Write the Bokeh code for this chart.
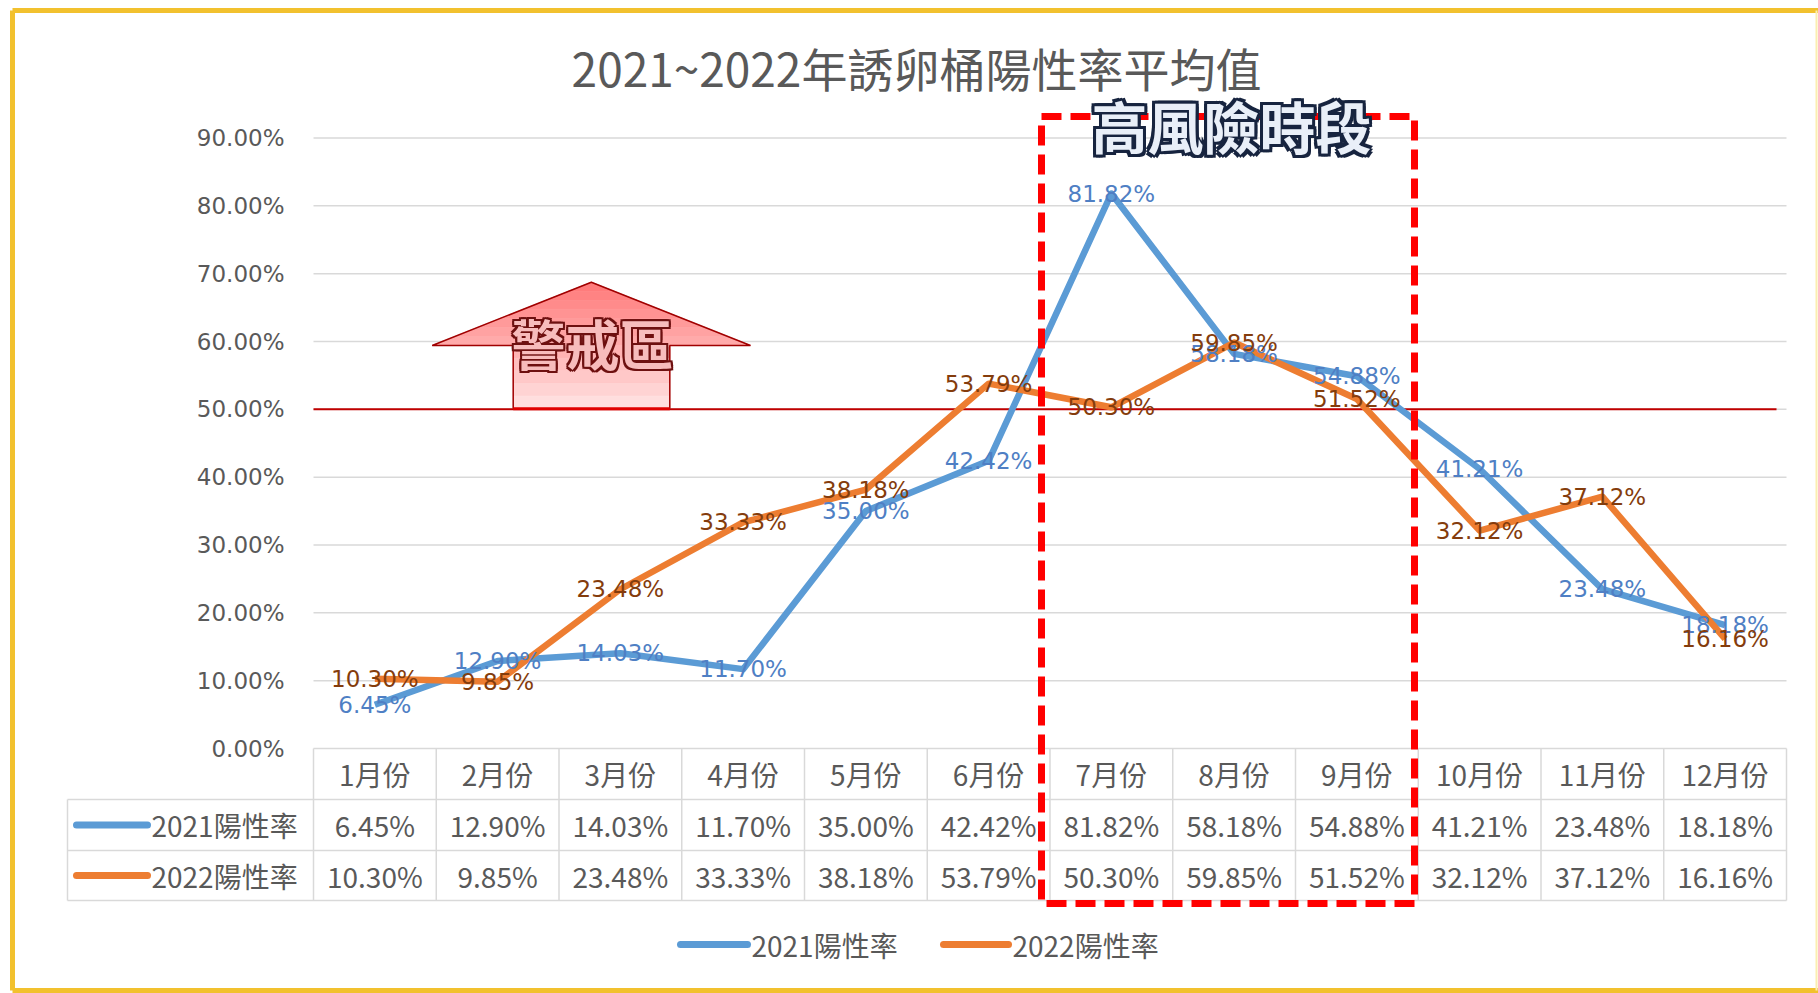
from bokeh.plotting import figure
from bokeh.models import Range1d
from bokeh.core.properties import value
from bokeh.embed import file_html
from bokeh.resources import INLINE

# ---------------- data ----------------
months = ["1月份", "2月份", "3月份", "4月份", "5月份", "6月份",
          "7月份", "8月份", "9月份", "10月份", "11月份", "12月份"]
series_names = ["2021陽性率", "2022陽性率"]
rate_2021 = [6.45, 12.90, 14.03, 11.70, 35.00, 42.42, 81.82, 58.18, 54.88, 41.21, 23.48, 18.18]
rate_2022 = [10.30, 9.85, 23.48, 33.33, 38.18, 53.79, 50.30, 59.85, 51.52, 32.12, 37.12, 16.16]
y_ticks = [0, 10, 20, 30, 40, 50, 60, 70, 80, 90]
threshold = 50
chart_title = "2021~2022年誘卵桶陽性率平均值"
warning_text = "警戒區"
risk_text = "高風險時段"

# ---------------- layout helpers ----------------
W, H = 1818, 993
PX_X0 = 313.0      # canvas px where the category axis starts
CAT_W = 122.75     # px per category
PX_Y0 = 748.0      # canvas px of 0 %
UNIT_H = 6.783     # px per percentage point


def X(px):
    return (px - PX_X0) / CAT_W


def Y(py):
    return (PX_Y0 - py) / UNIT_H


CJK = value("Noto Sans CJK TC")
LAB = value("DejaVu Sans")
GRAY = "#595959"
BLUE = "#5b9bd5"
ORANGE = "#ed7d31"
BLUE_LAB = "#4f7fc4"
ORANGE_LAB = "#843c0c"

p = figure(width=W, height=H, output_backend="svg", toolbar_location=None,
           x_range=Range1d(-PX_X0 / CAT_W, (W - PX_X0) / CAT_W),
           y_range=Range1d(-(H - PX_Y0) / UNIT_H, PX_Y0 / UNIT_H),
           x_axis_location=None, y_axis_location=None, min_border=0,
           outline_line_color=None, background_fill_color="white",
           border_fill_color="white")
p.xgrid.visible = False
p.ygrid.visible = False

n = len(months)
xs = [i + 0.5 for i in range(n)]

# ---------------- yellow chart border ----------------
p.segment(x0=[X(12), X(12), X(12)], y0=[Y(10), Y(10), Y(990)],
          x1=[X(1818), X(12), X(1818)], y1=[Y(10), Y(990), Y(990)],
          line_color="#f2c12e", line_width=5)
p.segment(x0=[X(1816)], y0=[Y(10)], x1=[X(1816)], y1=[Y(990)],
          line_color="#fbeeb0", line_width=2)

# ---------------- grid + y labels ----------------
grid_t = [t for t in y_ticks if t > 0]
p.segment(x0=[0] * len(grid_t), y0=grid_t, x1=[n] * len(grid_t), y1=grid_t,
          line_color="#d9d9d9", line_width=1.5)
p.text(x=[X(284)] * len(y_ticks), y=y_ticks, text=[f"{t:.2f}%" for t in y_ticks],
       text_align="right", text_baseline="middle", text_font=LAB,
       text_font_size="23px", text_color=GRAY)

# threshold line
p.segment(x0=[0], y0=[threshold], x1=[X(1776)], y1=[threshold],
          line_color="#c00000", line_width=2)

# ---------------- warning arrow ----------------
apex_y, base_y, bot_y = 281.7, 345.0, 408.3
tri_l, tri_r, body_l, body_r = 431.7, 750.0, 512.7, 669.3
tri_c = (tri_l + tri_r) / 2
body_c = (body_l + body_r) / 2


def half_w(yy):
    if yy <= base_y:
        return (yy - apex_y) / (base_y - apex_y) * (tri_r - tri_l) / 2
    return (body_r - body_l) / 2


bands = [apex_y + (base_y - apex_y) * k / 7 for k in range(8)] + \
        [base_y + (bot_y - base_y) * k / 5 for k in range(1, 6)]
b_xs, b_ys, b_cols = [], [], []
for ya, yb in zip(bands[:-1], bands[1:]):
    if yb <= base_y + 1e-6:
        c = tri_c
        wa, wb = half_w(ya), half_w(yb)
    else:
        c = body_c
        wa = wb = half_w(yb)
    b_xs.append([X(c - wa), X(c + wa), X(c + wb), X(c - wb)])
    b_ys.append([Y(ya), Y(ya), Y(yb), Y(yb)])
    f = ((ya + yb) / 2 - apex_y) / (bot_y - apex_y)
    g = int(120 + 108 * f)
    b_cols.append("#ff%02x%02x" % (g, g))
p.patches(xs=b_xs, ys=b_ys, fill_color=b_cols, line_color=b_cols, line_width=0.8)
ax = [tri_l, tri_c, tri_r, body_r, body_r, body_l, body_l]
ay = [base_y, apex_y, base_y, base_y, bot_y, bot_y, base_y]
p.patch(x=[X(v) for v in ax], y=[Y(v) for v in ay], fill_alpha=0,
        line_color="#a00000", line_width=1.5)
p.segment(x0=[X(body_l)], y0=[Y(bot_y)], x1=[X(body_r)], y1=[Y(bot_y)],
          line_color="#e00000", line_width=3)

offs = [(-2, -2), (-2, 0), (-2, 2), (0, -2), (0, 2), (2, -2), (2, 0), (2, 2)]
p.text(x=[X(592)] * 8, y=[Y(342)] * 8, text=[warning_text] * 8,
       x_offset=[o[0] for o in offs], y_offset=[o[1] for o in offs],
       text_align="center", text_baseline="middle", text_font=CJK,
       text_font_size="54px", text_font_style="bold", text_color="#6e1010")
p.text(x=[X(592)], y=[Y(342)], text=[warning_text], text_align="center",
       text_baseline="middle", text_font=CJK, text_font_size="54px",
       text_font_style="bold", text_color="#f7bcbc")

# ---------------- series lines + labels ----------------
p.line(xs, rate_2021, line_color=BLUE, line_width=6.5, line_join="round")
p.line(xs, rate_2022, line_color=ORANGE, line_width=6.5, line_join="round")
p.text(x=xs, y=rate_2021, text=[f"{v:.2f}%" for v in rate_2021],
       text_align="center", text_baseline="middle", text_font=LAB,
       text_font_size="23px", text_color=BLUE_LAB)
p.text(x=xs, y=rate_2022, text=[f"{v:.2f}%" for v in rate_2022],
       text_align="center", text_baseline="middle", text_font=LAB,
       text_font_size="23px", text_color=ORANGE_LAB)

# ---------------- data table ----------------
row_px = [748, 799, 850, 900]
ry = [Y(v) for v in row_px]
x_left = X(67)
tc = "#d9d9d9"
p.segment(x0=[0, x_left, x_left, x_left], y0=ry, x1=[n] * 4, y1=ry,
          line_color=tc, line_width=1.5)
p.segment(x0=list(range(n + 1)), y0=[ry[0]] * (n + 1),
          x1=list(range(n + 1)), y1=[ry[3]] * (n + 1), line_color=tc, line_width=1.5)
p.segment(x0=[x_left], y0=[ry[1]], x1=[x_left], y1=[ry[3]], line_color=tc, line_width=1.5)

TFS = "28px"
p.text(x=xs, y=[Y(773.5)] * n, text=months, text_align="center",
       text_baseline="middle", text_font=CJK, text_font_size=TFS, text_color=GRAY)
p.text(x=xs, y=[Y(824.5)] * n, text=[f"{v:.2f}%" for v in rate_2021],
       text_align="center", text_baseline="middle", text_font=CJK,
       text_font_size=TFS, text_color=GRAY)
p.text(x=xs, y=[Y(875)] * n, text=[f"{v:.2f}%" for v in rate_2022],
       text_align="center", text_baseline="middle", text_font=CJK,
       text_font_size=TFS, text_color=GRAY)

# legend keys in the table
p.segment(x0=[X(76), X(76)], y0=[Y(824.5), Y(875)], x1=[X(147), X(147)],
          y1=[Y(824.5), Y(875)], line_color=[BLUE, ORANGE], line_width=7,
          line_cap="round")
p.text(x=[X(151), X(151)], y=[Y(824.5), Y(875)], text=series_names,
       text_align="left", text_baseline="middle", text_font=CJK,
       text_font_size=TFS, text_color=GRAY)

# ---------------- bottom legend ----------------
p.segment(x0=[X(680), X(943)], y0=[Y(944), Y(944)], x1=[X(747), X(1008)],
          y1=[Y(944), Y(944)], line_color=[BLUE, ORANGE], line_width=7,
          line_cap="round")
p.text(x=[X(751), X(1012)], y=[Y(944), Y(944)], text=series_names,
       text_align="left", text_baseline="middle", text_font=CJK,
       text_font_size=TFS, text_color=GRAY)

# ---------------- title ----------------
p.text(x=[X(916)], y=[Y(66)], text=[chart_title], text_align="center",
       text_baseline="middle", text_font=CJK, text_font_size="46px", text_color=GRAY)

# ---------------- high-risk period box ----------------
p.quad(left=[X(1041)], right=[X(1414)], top=[Y(116)], bottom=[Y(903)],
       fill_alpha=0, line_color="#ff0000", line_width=7, line_dash="20 9")
offs3 = [(-3, -3), (-3, 0), (-3, 3), (0, -3), (0, 3), (3, -3), (3, 0), (3, 3)]
p.text(x=[X(1231)] * 8, y=[Y(124)] * 8, text=[risk_text] * 8,
       x_offset=[o[0] for o in offs3], y_offset=[o[1] for o in offs3],
       text_align="center", text_baseline="middle", text_font=CJK,
       text_font_size="56px", text_font_style="bold", text_color="#17243f")
p.text(x=[X(1231)], y=[Y(124)], text=[risk_text], text_align="center",
       text_baseline="middle", text_font=CJK, text_font_size="56px",
       text_font_style="bold", text_color="#e9eff8")

open("out.html", "w").write(file_html(p, INLINE))
